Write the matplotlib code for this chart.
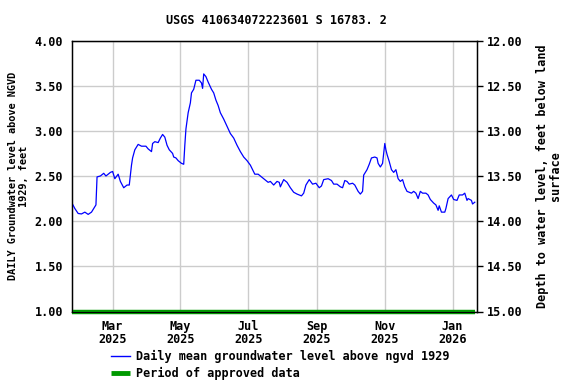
import matplotlib
matplotlib.use("Agg")
import matplotlib.pyplot as plt
import matplotlib.dates as mdates
from matplotlib.lines import Line2D
import numpy as np

title = "USGS 410634072223601 S 16783. 2"
left_label = "DAILY Groundwater level above NGVD\n1929, feet"
right_label = "Depth to water level, feet below land\nsurface"
series_label = "Daily mean groundwater level above ngvd 1929"
approved_label = "Period of approved data"

dates = [
    "2025-01-23", "2025-01-26", "2025-01-29", "2025-02-01", "2025-02-04", "2025-02-07",
    "2025-02-10", "2025-02-12", "2025-02-14", "2025-02-15", "2025-02-18", "2025-02-21",
    "2025-02-23", "2025-02-27", "2025-03-01", "2025-03-03", "2025-03-06", "2025-03-08",
    "2025-03-11", "2025-03-14", "2025-03-16", "2025-03-18", "2025-03-19", "2025-03-21",
    "2025-03-24", "2025-03-27", "2025-03-31", "2025-04-02", "2025-04-05", "2025-04-06",
    "2025-04-08", "2025-04-11", "2025-04-13", "2025-04-15", "2025-04-17", "2025-04-19",
    "2025-04-21", "2025-04-24", "2025-04-25", "2025-04-27", "2025-04-29", "2025-05-02",
    "2025-05-04", "2025-05-05", "2025-05-06", "2025-05-08", "2025-05-10", "2025-05-11",
    "2025-05-13", "2025-05-15", "2025-05-18", "2025-05-20", "2025-05-21", "2025-05-22",
    "2025-05-24", "2025-05-26", "2025-05-29", "2025-05-31", "2025-06-02", "2025-06-04",
    "2025-06-06", "2025-06-09", "2025-06-12", "2025-06-15", "2025-06-18", "2025-06-21",
    "2025-06-24", "2025-06-27", "2025-06-30", "2025-07-03", "2025-07-05", "2025-07-07",
    "2025-07-10", "2025-07-13", "2025-07-16", "2025-07-19", "2025-07-21", "2025-07-24",
    "2025-07-27", "2025-07-29", "2025-07-30", "2025-08-02", "2025-08-05", "2025-08-08",
    "2025-08-11", "2025-08-14", "2025-08-18", "2025-08-20", "2025-08-22", "2025-08-25",
    "2025-08-28", "2025-08-31", "2025-09-03", "2025-09-05", "2025-09-07", "2025-09-11",
    "2025-09-14", "2025-09-16", "2025-09-19", "2025-09-22", "2025-09-24", "2025-09-26",
    "2025-09-28", "2025-09-30", "2025-10-03", "2025-10-05", "2025-10-08", "2025-10-10",
    "2025-10-12", "2025-10-13", "2025-10-16", "2025-10-18", "2025-10-20", "2025-10-23",
    "2025-10-25", "2025-10-26", "2025-10-28", "2025-10-30", "2025-11-01", "2025-11-02",
    "2025-11-03", "2025-11-05", "2025-11-07", "2025-11-09", "2025-11-11", "2025-11-13",
    "2025-11-15", "2025-11-17", "2025-11-19", "2025-11-21", "2025-11-25", "2025-11-27",
    "2025-11-29", "2025-12-01", "2025-12-03", "2025-12-05", "2025-12-08", "2025-12-10",
    "2025-12-12", "2025-12-15", "2025-12-17", "2025-12-19", "2025-12-20", "2025-12-22",
    "2025-12-25", "2025-12-26", "2025-12-28", "2025-12-31", "2026-01-02", "2026-01-05",
    "2026-01-07", "2026-01-10", "2026-01-12", "2026-01-14", "2026-01-15", "2026-01-18",
    "2026-01-19", "2026-01-21",
]
levels = [
    2.21, 2.14, 2.085, 2.08, 2.10, 2.075,
    2.10, 2.14, 2.18, 2.49, 2.50, 2.53,
    2.50, 2.54, 2.55, 2.47, 2.52, 2.44,
    2.37, 2.40, 2.40, 2.62, 2.70, 2.79,
    2.85, 2.83, 2.83, 2.80, 2.77, 2.86,
    2.88, 2.87, 2.92, 2.96, 2.93, 2.84,
    2.79, 2.75, 2.71, 2.70, 2.67, 2.64,
    2.63, 2.84, 3.02, 3.20, 3.31, 3.42,
    3.46, 3.56, 3.56, 3.53, 3.47, 3.63,
    3.60, 3.54, 3.46, 3.42, 3.34, 3.28,
    3.20, 3.13, 3.05, 2.97, 2.92, 2.84,
    2.77, 2.71, 2.67, 2.62, 2.57, 2.52,
    2.52, 2.49, 2.46, 2.43, 2.44, 2.40,
    2.44, 2.43, 2.38, 2.46, 2.43, 2.37,
    2.32, 2.30, 2.28, 2.31, 2.40, 2.46,
    2.41, 2.42, 2.37, 2.39, 2.46, 2.47,
    2.45, 2.41, 2.41, 2.38, 2.37, 2.45,
    2.44, 2.41, 2.42, 2.40, 2.33, 2.30,
    2.33, 2.51, 2.57, 2.63, 2.70, 2.71,
    2.70, 2.64, 2.60, 2.64, 2.86, 2.79,
    2.74, 2.66, 2.57, 2.54, 2.57, 2.47,
    2.44, 2.46, 2.38, 2.33, 2.31, 2.33,
    2.31, 2.25, 2.33, 2.31, 2.31, 2.29,
    2.24, 2.20, 2.18, 2.12, 2.17, 2.10,
    2.10, 2.14, 2.25, 2.29, 2.24, 2.23,
    2.29, 2.29, 2.31, 2.23, 2.25, 2.23,
    2.19, 2.21,
]
approved_period = ["2025-01-23", "2026-01-21"]
approved_level = [1.0, 1.0]
left_ticks = [1.00, 1.50, 2.00, 2.50, 3.00, 3.50, 4.00]
right_ticks = [12.00, 12.50, 13.00, 13.50, 14.00, 14.50, 15.00]
x_range = ["2025-01-23", "2026-01-23"]

FONT = "DejaVu Sans Mono"
FS = 8.5
plt.rcParams["font.family"] = FONT
plt.rcParams["font.weight"] = "bold"

fig = plt.figure(figsize=(5.76, 3.84), dpi=100)
L, R, T, B = 71.5, 477.0, 40.5, 311.5
ax = fig.add_axes([L / 576, 1 - B / 384, (R - L) / 576, (B - T) / 384])

x = np.array(dates, dtype="datetime64[D]")
ax.plot(x, levels, color="#0000ff", lw=0.9, zorder=3)
ax.plot(np.array(approved_period, dtype="datetime64[D]"), approved_level,
        color="#009900", lw=3.2, solid_capstyle="butt", zorder=4, clip_on=False)

ax.set_xlim(np.datetime64(x_range[0]), np.datetime64(x_range[1]))
ax.set_ylim(1.0, 4.0)
ax.set_yticks(left_ticks)
ax.set_yticklabels([f"{v:.2f}" for v in left_ticks])
ax.xaxis.set_major_locator(mdates.MonthLocator(bymonth=[1, 3, 5, 7, 9, 11]))
ax.xaxis.set_major_formatter(mdates.DateFormatter("%b\n%Y"))
ax.grid(True, color="#cccccc", lw=1.0)
ax.set_axisbelow(True)
ax.tick_params(axis="x", length=0, pad=6, labelsize=FS)
ax.tick_params(axis="y", length=0, pad=6, labelsize=FS)
for lab in ax.get_xticklabels():
    lab.set_fontweight("bold")
    lab.set_linespacing(1.05)
for lab in ax.get_yticklabels():
    lab.set_fontweight("bold")
for s in ax.spines.values():
    s.set_linewidth(1.0)
    s.set_color("black")

ax.set_ylabel(left_label, fontsize=7.4, fontweight="bold", labelpad=4, linespacing=1.15)

ax2 = ax.twinx()
ax2.set_ylim(15.0, 12.0)
ax2.set_yticks(right_ticks)
ax2.set_yticklabels([f"{v:.2f}" for v in right_ticks])
ax2.tick_params(axis="y", length=4, width=1, pad=3, labelsize=FS)
for lab in ax2.get_yticklabels():
    lab.set_fontweight("bold")
ax2.set_ylabel(right_label, fontsize=FS, fontweight="bold", labelpad=10, linespacing=1.0)

fig.text(276 / 576, 1 - 21 / 384, title, ha="center", va="center",
         fontsize=FS, fontweight="bold")

handles = [Line2D([], [], color="#0000ff", lw=1.0),
           Line2D([], [], color="#009900", lw=3.5, solid_capstyle="butt")]
fig.legend(handles, [series_label, approved_label], loc="upper left",
           bbox_to_anchor=(111 / 576, 1 - 350 / 384), frameon=False,
           prop={"family": FONT, "weight": "bold", "size": FS},
           handlelength=1.6, handletextpad=0.5, labelspacing=0.35,
           borderpad=0, borderaxespad=0)

fig.savefig("out.png", dpi=100)
